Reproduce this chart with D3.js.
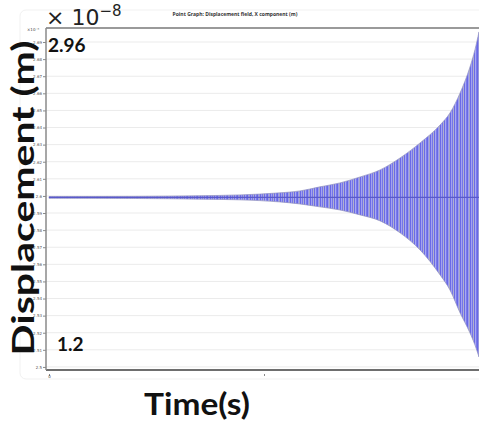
<!DOCTYPE html>
<html>
<head>
<meta charset="utf-8">
<script src="https://cdn.jsdelivr.net/npm/d3@7"></script>
<style>
  html, body { margin: 0; padding: 0; background: #fff; }
  svg { display: block; }
</style>
</head>
<body>
<svg id="chart" width="479" height="422"></svg>
<script>
// Sampled envelope of the displacement signal (x component, ×1e-8 m)
const times = [0, 0.40, 0.702, 0.888, 1.074, 1.167, 1.260, 1.353, 1.447, 1.540, 1.633, 1.726, 1.819, 1.865, 1.912, 1.958, 1.981, 2.0];
const upperPeaks = [2.5996, 2.5997, 2.6001, 2.6006, 2.6018, 2.6029, 2.6053, 2.6076, 2.6111, 2.6152, 2.6222, 2.6310, 2.6415, 2.6485, 2.6602, 2.6754, 2.6854, 2.6959];
const lowerPeaks = [2.5986, 2.5985, 2.5981, 2.5977, 2.5965, 2.5953, 2.5936, 2.5918, 2.5889, 2.5854, 2.5784, 2.5684, 2.5538, 2.5450, 2.5316, 2.5199, 2.5129, 2.5058];
const restLevel = 2.5991;

const yTicks = [2.5, 2.51, 2.52, 2.53, 2.54, 2.55, 2.56, 2.57, 2.58, 2.59, 2.6, 2.61, 2.62, 2.63, 2.64, 2.65, 2.66, 2.67, 2.68, 2.69];
const xTicks = [0, 1];
const xTickLabels = ["0", ""];

const titleText = "Point Graph: Displacement field, X component (m)";
const yLabel = "Displacement (m)";
const xLabel = "Time(s)";
const maxLabel = "2.96";
const minLabel = "1.2";

const svg = d3.select("#chart");

const plot = { left: 46, right: 479, top: 28, bottom: 370 };

const x = d3.scaleLinear().domain([0, 2]).range([49, 479]);
const y = d3.scaleLinear().domain([2.4982, 2.6982]).range([plot.bottom, plot.top]);

// faint outer panel
svg.append("rect")
  .attr("x", 20).attr("y", 10).attr("width", 480).attr("height", 369)
  .attr("rx", 6).attr("fill", "none").attr("stroke", "#f1f1f1");

// title
svg.append("text")
  .attr("x", 235).attr("y", 16)
  .attr("text-anchor", "middle")
  .attr("font-family", "Open Sans, sans-serif").attr("font-weight", "bold")
  .attr("font-size", 5).attr("fill", "#333")
  .text(titleText);

// horizontal gridlines
svg.append("g").selectAll("line").data(yTicks).join("line")
  .attr("x1", plot.left).attr("x2", plot.right)
  .attr("y1", d => y(d)).attr("y2", d => y(d))
  .attr("stroke", "#ebebeb").attr("stroke-width", 1);

// y axis
const yAxis = d3.axisLeft(y).tickValues(yTicks).tickSize(3).tickFormat(d3.format("~g"));
const gy = svg.append("g").attr("transform", `translate(${plot.left},0)`).call(yAxis);
gy.select(".domain").remove();
gy.selectAll(".tick line").attr("stroke", "#888");
gy.selectAll(".tick text").attr("font-size", 4).attr("fill", "#555")
  .attr("font-family", "DejaVu Sans, sans-serif").attr("x", -4);

// x axis
const xAxis = d3.axisBottom(x).tickValues(xTicks).tickSize(2)
  .tickFormat((d, i) => xTickLabels[i]);
const gx = svg.append("g").attr("transform", `translate(0,${plot.bottom + 4})`).call(xAxis);
gx.select(".domain").remove();
gx.selectAll(".tick line").attr("stroke", "#888");
gx.selectAll(".tick text").attr("font-size", 4).attr("fill", "#444")
  .attr("font-family", "DejaVu Sans, sans-serif").attr("y", 1);

// small exponent marker on the axis
svg.append("text")
  .attr("x", 27).attr("y", 31)
  .attr("font-family", "DejaVu Sans, sans-serif").attr("font-size", 4).attr("fill", "#444")
  .text("×10⁻⁸");

// striped fill for the dense oscillation
const defs = svg.append("defs");
const stripeColors = ["#6a6ae6", "#a2a2f3", "#7676ea", "#b0b0cc", "#6c6ce5", "#a8a8f4", "#7a7aeb", "#6868e4", "#9c9cf2", "#a8a8c4"];
const pat = defs.append("pattern")
  .attr("id", "osc").attr("patternUnits", "userSpaceOnUse")
  .attr("width", stripeColors.length).attr("height", 10);
pat.selectAll("rect").data(stripeColors).join("rect")
  .attr("x", (d, i) => i).attr("y", 0).attr("width", 1).attr("height", 10)
  .attr("fill", d => d);

defs.append("clipPath").attr("id", "plotClip")
  .append("rect").attr("x", plot.left).attr("y", plot.top)
  .attr("width", plot.right - plot.left).attr("height", plot.bottom - plot.top);

const env = times.map((t, i) => ({ t, hi: upperPeaks[i], lo: lowerPeaks[i] }));

const area = d3.area()
  .x(d => x(d.t)).y0(d => y(d.lo)).y1(d => y(d.hi))
  .curve(d3.curveMonotoneX);

const g = svg.append("g").attr("clip-path", "url(#plotClip)");
g.append("path").datum(env).attr("d", area)
  .attr("fill", "url(#osc)")
  .attr("stroke", "#9090c0").attr("stroke-width", 0.7);

// resting level
g.append("line")
  .attr("x1", x(0)).attr("x2", x(2))
  .attr("y1", y(restLevel)).attr("y2", y(restLevel))
  .attr("stroke", "#5a5acb").attr("stroke-width", 1.2);

// frame lines
svg.append("line").attr("x1", plot.left).attr("x2", plot.right)
  .attr("y1", plot.top).attr("y2", plot.top)
  .attr("stroke", "#9a9a9a").attr("stroke-width", 2);
svg.append("line").attr("x1", plot.left).attr("x2", plot.right)
  .attr("y1", plot.bottom).attr("y2", plot.bottom)
  .attr("stroke", "#6e6e6e").attr("stroke-width", 2);
svg.append("line").attr("x1", plot.left).attr("x2", plot.left)
  .attr("y1", plot.top).attr("y2", plot.bottom)
  .attr("stroke", "#8a8a8a").attr("stroke-width", 1.5);

// large annotation labels
const big = "Lato, Open Sans, sans-serif";

const sci = svg.append("text")
  .attr("x", 46).attr("y", 25)
  .attr("font-family", "DejaVu Sans, sans-serif").attr("fill", "#222");
sci.append("tspan").attr("font-size", 22).text("× 10");
sci.append("tspan").attr("font-size", 15).attr("dy", -9).text("−8");

svg.append("text")
  .attr("x", 48).attr("y", 52)
  .attr("font-family", big).attr("font-weight", "bold")
  .attr("font-size", 19).attr("fill", "#111")
  .text(maxLabel);

svg.append("text")
  .attr("x", 57).attr("y", 351)
  .attr("font-family", big).attr("font-weight", "bold")
  .attr("font-size", 19).attr("fill", "#111")
  .text(minLabel);

svg.append("text")
  .attr("transform", "translate(34,198) rotate(-90)")
  .attr("text-anchor", "middle")
  .attr("font-family", big).attr("font-weight", "bold")
  .attr("font-size", 31).attr("fill", "#111")
  .attr("textLength", 315).attr("lengthAdjust", "spacingAndGlyphs")
  .text(yLabel);

svg.append("text")
  .attr("x", 197).attr("y", 415)
  .attr("text-anchor", "middle")
  .attr("font-family", big).attr("font-weight", "bold")
  .attr("font-size", 30).attr("fill", "#111")
  .attr("textLength", 106).attr("lengthAdjust", "spacingAndGlyphs")
  .text(xLabel);
</script>
</body>
</html>
